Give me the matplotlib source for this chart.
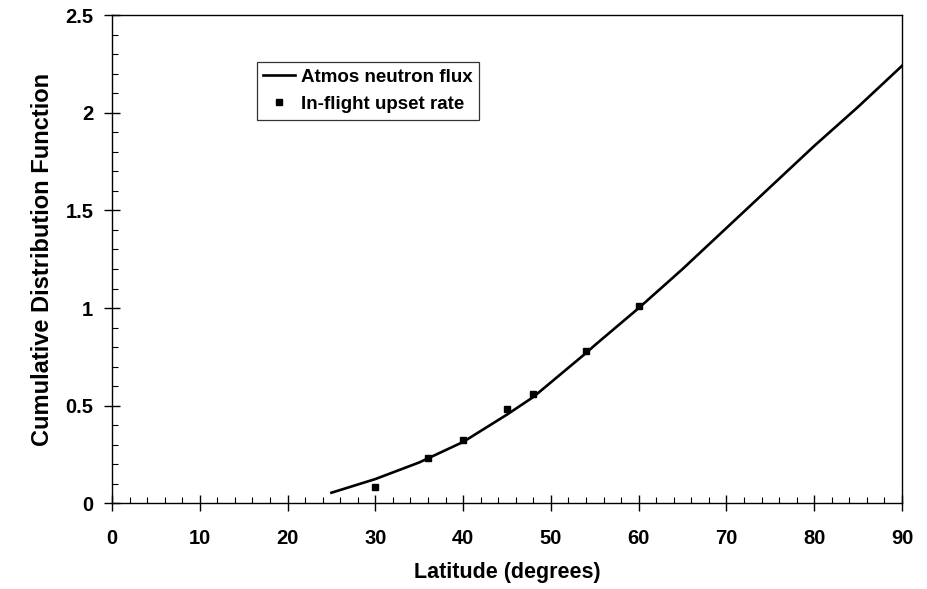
import numpy as np
import matplotlib
matplotlib.use("Agg")
import matplotlib.pyplot as plt
from matplotlib.ticker import MultipleLocator

plt.rcParams['font.family'] = ['Liberation Sans', 'DejaVu Sans']
plt.rcParams['font.weight'] = 'bold'

# Atmos neutron flux curve
flux_lat = [25, 30, 35, 40, 45, 48, 50, 54, 55, 60, 65, 70, 75, 80, 85, 90]
flux_cdf = [0.055, 0.125, 0.21, 0.315, 0.455, 0.545, 0.62, 0.77, 0.81, 1.0,
            1.2, 1.41, 1.62, 1.83, 2.03, 2.24]

# In-flight upset rate points
upset_lat = [30, 36, 40, 45, 48, 54, 60]
upset_cdf = [0.085, 0.233, 0.325, 0.483, 0.56, 0.778, 1.01]

fig = plt.figure(figsize=(9.28, 5.89), dpi=100)
ax = fig.add_axes([0.1207, 0.1452, 0.8513, 0.8293])

ax.plot(flux_lat, flux_cdf, color='black', lw=1.9, label='Atmos neutron flux')
ax.plot(upset_lat, upset_cdf, 's', color='black', ms=5, label='In-flight upset rate')

ax.set_xlim(0, 90)
ax.set_ylim(0, 2.5)
ax.xaxis.set_major_locator(MultipleLocator(10))
ax.xaxis.set_minor_locator(MultipleLocator(2))
ax.yaxis.set_minor_locator(MultipleLocator(0.1))
ax.set_yticks([0, 0.5, 1, 1.5, 2, 2.5])
ax.set_yticklabels(['0', '0.5', '1', '1.5', '2', '2.5'])

ax.tick_params(which='major', direction='inout', length=11, width=1, labelsize=14.5)
ax.tick_params(axis='x', which='major', pad=13)
ax.tick_params(axis='y', which='major', pad=8)
ax.tick_params(which='minor', direction='in', length=4, width=0.8)
for s in ax.spines.values():
    s.set_linewidth(1.0)

ax.set_xlabel('Latitude (degrees)', fontsize=15.5, fontweight='bold', labelpad=10)
ax.set_ylabel('Cumulative Distribution Function', fontsize=17, fontweight='bold', labelpad=8)

leg = ax.legend(loc='upper left', bbox_to_anchor=(0.183, 0.904), fontsize=13.5,
                frameon=True, fancybox=False, edgecolor='black', handlelength=1.7,
                borderpad=0.35, labelspacing=0.55, handletextpad=0.3, borderaxespad=0)
leg.get_frame().set_linewidth(0.9)
for t in leg.get_texts():
    t.set_fontweight('bold')

fig.savefig('out.png', dpi=100)
